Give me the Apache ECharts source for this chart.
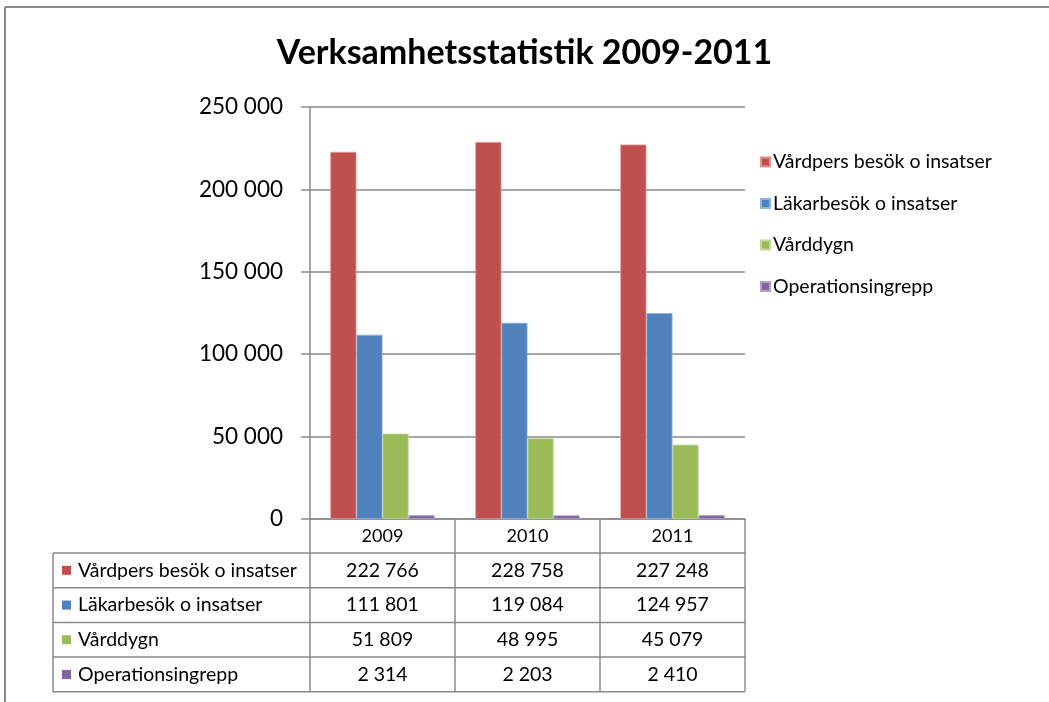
<!DOCTYPE html>
<html>
<head>
<meta charset="utf-8">
<script src="https://cdn.jsdelivr.net/npm/echarts@6/dist/echarts.min.js"></script>
<style>
  html, body { margin: 0; padding: 0; background: #fff; }
  #chart { width: 1049px; height: 702px; }
</style>
</head>
<body>
<div id="chart"></div>
<script>
const titleText = 'Verksamhetsstatistik 2009-2011';
const categories = ['2009', '2010', '2011'];
const seriesNames = ['Vårdpers besök o insatser', 'Läkarbesök o insatser', 'Vårddygn', 'Operationsingrepp'];
const vardpersBesok = [222766, 228758, 227248];
const lakarBesok = [111801, 119084, 124957];
const varddygn = [51809, 48995, 45079];
const operationsingrepp = [2314, 2203, 2410];
const yMin = 0, yMax = 250000, yInterval = 50000;
const colors = ['#C0504D', '#4F81BD', '#9BBB59', '#8064A2'];
const borderColors = ['#D99694', '#95B3D7', '#C3D69B', '#B3A2C7'];

const seriesValues = [vardpersBesok, lakarBesok, varddygn, operationsingrepp];
const FONT = 'Lato';
const lineColor = '#8a8a8a';

function fmt(v) { return String(v).replace(/\B(?=(\d{3})+(?!\d))/g, ' '); }

const chart = echarts.init(document.getElementById('chart'));
const option = {
  animation: false,
  backgroundColor: '#fff',
  textStyle: { fontFamily: FONT, color: '#000' },
  title: {
    text: titleText, left: 'center', top: 31,
    textStyle: { fontFamily: FONT, fontSize: 34, fontWeight: 'bold', color: '#000' }
  },
  legend: {
    orient: 'vertical', left: 755, top: 147, itemGap: 21.5,
    icon: 'rect', itemWidth: 9, itemHeight: 9,
    textStyle: { fontFamily: FONT, fontSize: 19.5, color: '#000', padding: [0, 0, 0, -2] },
    data: seriesNames
  },
  grid: { left: 310, right: 304, top: 107, bottom: 183, containLabel: false },
  xAxis: {
    type: 'category', data: categories,
    axisLine: { lineStyle: { color: lineColor, width: 1.5 } },
    axisTick: { show: false },
    axisLabel: { fontFamily: FONT, fontSize: 18, color: '#000', margin: 8 }
  },
  yAxis: {
    type: 'value', min: yMin, max: yMax, interval: yInterval,
    axisLine: { show: true, lineStyle: { color: lineColor, width: 1.5 } },
    axisTick: { show: true, length: 9, lineStyle: { color: lineColor, width: 1.5 } },
    splitLine: { lineStyle: { color: lineColor, width: 1.5 } },
    axisLabel: { fontFamily: FONT, fontSize: 22.5, color: '#000', margin: 27, formatter: v => fmt(v) }
  },
  series: seriesNames.map((n, i) => ({
    name: n, type: 'bar', data: seriesValues[i],
    barGap: '0%', barCategoryGap: '28%',
    itemStyle: { color: colors[i], borderColor: borderColors[i], borderWidth: 0.8 }
  }))
};
chart.setOption(option);

// Data table below the axis, built from the same arrays
function buildTable() {
  const g = [];
  const y0 = chart.convertToPixel({ yAxisIndex: 0 }, 0);
  const centers = categories.map(c => chart.convertToPixel({ xAxisIndex: 0 }, c));
  const band = centers.length > 1 ? centers[1] - centers[0] : 145;
  const colEdges = [centers[0] - band / 2].concat(centers.map(c => c + band / 2));
  const headerH = 34, rowH = 34.7;
  const tableLeft = 53;
  const tableTop = y0 + headerH;
  const tableBottom = tableTop + rowH * seriesNames.length;
  const ls = { stroke: lineColor, lineWidth: 1.5 };
  colEdges.forEach(x => g.push({ type: 'line', shape: { x1: x, y1: y0, x2: x, y2: tableBottom }, style: ls, silent: true }));
  g.push({ type: 'line', shape: { x1: tableLeft, y1: tableTop, x2: tableLeft, y2: tableBottom }, style: ls, silent: true });
  for (let r = 0; r <= seriesNames.length; r++) {
    const y = tableTop + r * rowH;
    g.push({ type: 'line', shape: { x1: tableLeft, y1: y, x2: colEdges[colEdges.length - 1], y2: y }, style: ls, silent: true });
  }
  seriesNames.forEach((n, r) => {
    const cy = tableTop + r * rowH + rowH / 2;
    g.push({ type: 'rect', shape: { x: 62, y: cy - 4.5, width: 9, height: 9 }, style: { fill: colors[r] }, silent: true });
    g.push({ type: 'text', style: { text: n, x: 78, y: cy, fontFamily: FONT, fontSize: 19.5, fill: '#000', verticalAlign: 'middle', align: 'left' }, silent: true });
    centers.forEach((cx, c) => {
      g.push({ type: 'text', style: { text: fmt(seriesValues[r][c]), x: cx, y: cy, fontFamily: FONT, fontSize: 19.5, fill: '#000', verticalAlign: 'middle', align: 'center' }, silent: true });
    });
  });
  g.push({ type: 'line', shape: { x1: 5, y1: 7, x2: 1049, y2: 7 }, style: { stroke: '#8a8a8a', lineWidth: 2 }, silent: true });
  g.push({ type: 'line', shape: { x1: 5, y1: 7, x2: 5, y2: 702 }, style: { stroke: '#8a8a8a', lineWidth: 2 }, silent: true });
  chart.setOption({ graphic: g });
}
buildTable();
</script>
</body>
</html>
